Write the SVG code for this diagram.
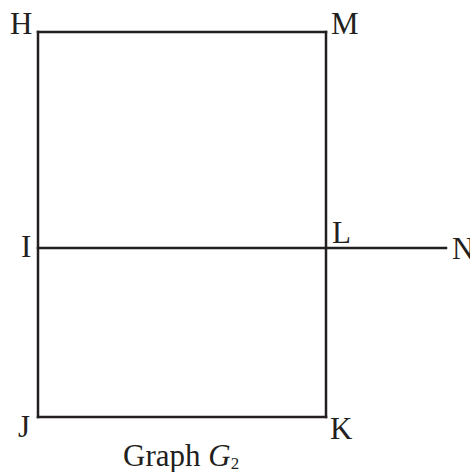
<svg xmlns="http://www.w3.org/2000/svg" width="470" height="472" viewBox="0 0 470 472">
<style>
.e{stroke:#231f20;stroke-width:2.5;fill:none;stroke-linecap:square}
.t{font-family:"Liberation Serif","Times New Roman",serif;font-size:31px;fill:#231f20}
</style>
<rect width="470" height="472" fill="#fff"/>
<g id="edges">
<line class="e" x1="38" y1="32" x2="326" y2="32"/>
<line class="e" x1="38" y1="32" x2="38" y2="417"/>
<line class="e" x1="326" y1="32" x2="326" y2="417"/>
<line class="e" x1="38" y1="417" x2="326" y2="417"/>
<line class="e" x1="38" y1="248" x2="446" y2="248"/>
</g>
<g id="H"><text class="t" x="10" y="34">H</text></g>
<g id="M"><text class="t" x="331" y="34">M</text></g>
<g id="I"><text class="t" x="21" y="257">I</text></g>
<g id="L"><text class="t" x="332" y="243">L</text></g>
<g id="N"><text class="t" x="452" y="259">N</text></g>
<g id="J"><text class="t" x="18" y="437">J</text></g>
<g id="K"><text class="t" x="330" y="439">K</text></g>
<g id="caption"><text class="t" x="123" y="466">Graph <tspan font-style="italic">G</tspan><tspan font-size="17" dy="3">2</tspan></text></g>
</svg>
